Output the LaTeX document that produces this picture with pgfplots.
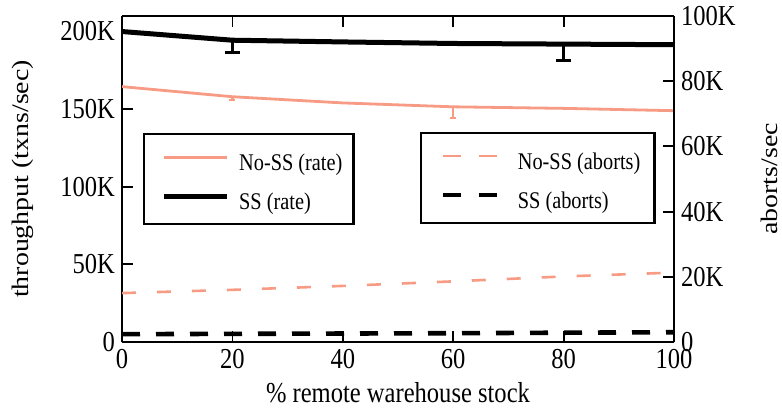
\documentclass[border=0pt]{standalone}
\usepackage{fontspec}
\setmainfont{Liberation Serif}[FakeStretch=0.85]
\newfontfamily\rotfont{Liberation Serif}
\usepackage{graphicx}
\usepackage{pgfplots}
\pgfplotsset{compat=1.18}
\definecolor{salmon}{RGB}{248,155,132}
\begin{document}
\begin{tikzpicture}
\pgfplotsset{
  every axis/.append style={
    scale only axis, width=276bp, height=163bp,
    xmin=0, xmax=100,
    axis line style={line width=1.4bp, black},
    tick style={line width=0.9bp, black},
    major tick length=5.5bp, tick align=inside,
    tick label style={font=\fontsize{14.5}{16}\selectfont},
    x label style={font=\fontsize{14.5}{16}\selectfont},
    y label style={font=\fontsize{14}{16}\rotfont, anchor=center},
    /pgf/number format/assume math mode=true,
  },
}
\begin{axis}[
  name=a,
  ymin=0, ymax=210000,
  scaled y ticks=false,
  ytick={0,50000,100000,150000,200000},
  yticklabels={0,50K,100K,150K,200K},
  xtick={0,20,40,60,80,100},
  axis y line*=left,
  xlabel={\% remote warehouse stock},
  ylabel={\scalebox{1}[0.85]{throughput (txns/sec)}},
  ylabel style={at={(axis description cs:-0.180,0.5)}},
  legend image code/.code={\path (0bp,6.75bp); \draw[#1] (3bp,6.75bp) -- (34.5bp,6.75bp);},
  legend style={at={(0.038,0.641)}, anchor=north west, draw=black, line width=1.2bp,
    inner xsep=5.5bp, inner ysep=3bp, row sep=0bp, column sep=5bp,
    nodes={inner sep=0pt, anchor=base west, text height=15.2bp, text depth=4.3bp},
    font=\fontsize{12}{14}\selectfont},
]
\addplot[salmon, line width=1.4bp,
  error bars/.cd, y dir=minus, y explicit,
  error bar style={line width=1.1bp, salmon},
  error mark options={rotate=90, mark size=1.5bp, line width=1.1bp, salmon}]
  coordinates {(0,164500) (20,158000) -= (0,2000) (40,154000) (60,151500) -= (0,7000) (80,150500) (100,149000)};
\addlegendentry{No-SS (rate)}
\addplot[black, line width=2.5bp,
  error bars/.cd, y dir=minus, y explicit,
  error bar style={line width=1.2bp, black},
  error mark options={rotate=90, mark size=3.75bp, line width=1.4bp, black}]
  coordinates {(0,200000) (20,194400) -= (0,7700) (40,193300) (60,192300) (80,191900) -= (0,10400) (100,191500)};
\addlegendentry{SS (rate)}
\end{axis}
\begin{axis}[
  ymin=0, ymax=100000,
  scaled y ticks=false,
  ytick={0,20000,40000,60000,80000,100000},
  yticklabels={0,20K,40K,60K,80K,100K},
  axis y line*=right,
  axis x line=none,
  ylabel={\scalebox{1}[0.85]{aborts/sec}},
  ylabel style={at={(axis description cs:1.172,0.5)}},
  legend image code/.code={\path (0bp,6.75bp); \draw[#1, dash pattern=on 9bp off 9bp] (2.5bp,6.75bp) -- (29.5bp,6.75bp);},
  legend style={at={(0.540,0.644)}, anchor=north west, draw=black, line width=1.2bp,
    inner xsep=7bp, inner ysep=3bp, row sep=0bp, column sep=9.5bp,
    nodes={inner sep=0pt, anchor=base west, text height=15.2bp, text depth=4.3bp},
    font=\fontsize{12}{14}\selectfont},
]
\addplot[salmon, line width=1.3bp, dash pattern=on 7bp off 10.5bp]
  coordinates {(0,15000) (20,16000) (40,17200) (60,18600) (80,20100) (100,21300)};
\addlegendentry{No-SS (aborts)}
\addplot[black, line width=2.3bp, dash pattern=on 9bp off 8bp]
  coordinates {(0,2400) (20,2500) (40,2600) (60,2700) (80,2850) (100,3000)};
\addlegendentry{SS (aborts)}
\end{axis}
\pgfresetboundingbox
\path ([shift={(-61bp,-34bp)}]a.south west) rectangle ([shift={(54bp,8bp)}]a.north east);
\end{tikzpicture}
\end{document}
